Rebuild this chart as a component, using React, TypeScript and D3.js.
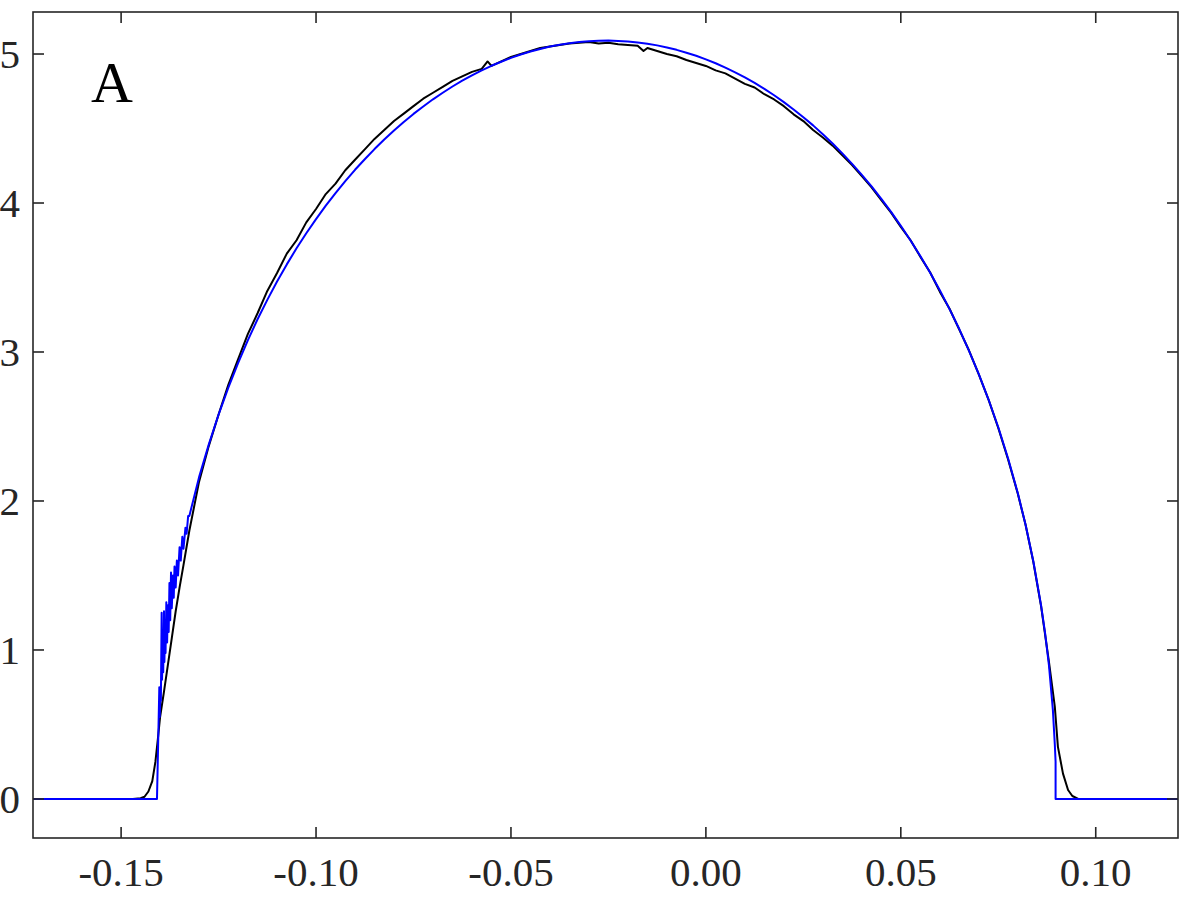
import React, { useEffect, useRef } from 'react';
import * as d3 from 'd3';

// axis ranges and ticks
const xDomain = [-0.1726, 0.1211];
const yDomain = [-0.262, 5.282];
const xTicks = [-0.15, -0.1, -0.05, 0.0, 0.05, 0.1];
const xTickLabels = ['-0.15', '-0.10', '-0.05', '0.00', '0.05', '0.10'];
const yTicks = [0, 1, 2, 3, 4, 5];
const yTickLabels = ['0', '1', '2', '3', '4', '5'];
const panelLabel = 'A';

// blue (theory) curve
const blueX = [
  -0.1726, -0.1408, -0.1405, -0.1402, -0.1401, -0.1399, -0.1398, -0.1396, -0.1395, -0.1393,
  -0.1392, -0.139, -0.1389, -0.1387, -0.1386, -0.1384, -0.1382, -0.138, -0.1378, -0.1376,
  -0.1374, -0.1372, -0.137, -0.1367, -0.1365, -0.1363, -0.136, -0.1357, -0.1354, -0.135,
  -0.1347, -0.1343, -0.134, -0.1335, -0.1332, -0.1328, -0.1325, -0.13, -0.1275, -0.125,
  -0.1225, -0.12, -0.1175, -0.115, -0.1125, -0.11, -0.1075, -0.105, -0.1025, -0.1,
  -0.0975, -0.095, -0.0925, -0.09, -0.0875, -0.085, -0.0825, -0.08, -0.0775, -0.075,
  -0.0725, -0.07, -0.0675, -0.065, -0.0625, -0.06, -0.0575, -0.055, -0.0525, -0.05,
  -0.0475, -0.045, -0.0425, -0.04, -0.0375, -0.035, -0.0325, -0.03, -0.0275, -0.025,
  -0.0225, -0.02, -0.0175, -0.015, -0.0125, -0.01, -0.0075, -0.005, -0.0025, 0.0,
  0.0025, 0.005, 0.0075, 0.01, 0.0125, 0.015, 0.0175, 0.02, 0.0225, 0.025,
  0.0275, 0.03, 0.0325, 0.035, 0.0375, 0.04, 0.0425, 0.045, 0.0475, 0.05,
  0.0525, 0.055, 0.0575, 0.06, 0.0625, 0.065, 0.0675, 0.07, 0.0725, 0.075,
  0.0775, 0.08, 0.082, 0.084, 0.086, 0.087, 0.088, 0.089, 0.0895, 0.0897,
  0.0897, 0.1211,
];
const blueY = [
  0, 0, 0.37, 0.75, 0.55, 0.7, 0.66, 1.25, 0.8, 1.1,
  0.85, 1.26, 0.92, 1.15, 0.98, 1.32, 1.05, 1.3, 1.12, 1.45,
  1.2, 1.52, 1.28, 1.5, 1.35, 1.56, 1.42, 1.6, 1.5, 1.69,
  1.6, 1.76, 1.68, 1.82, 1.78, 1.9, 1.9, 2.16, 2.38, 2.58,
  2.76, 2.925, 3.078, 3.22, 3.35, 3.473, 3.588, 3.696, 3.797, 3.892,
  3.982, 4.067, 4.147, 4.223, 4.294, 4.362, 4.426, 4.487, 4.544, 4.598,
  4.648, 4.696, 4.74, 4.782, 4.821, 4.857, 4.89, 4.921, 4.948, 4.974,
  4.997, 5.017, 5.034, 5.05, 5.062, 5.073, 5.08, 5.086, 5.089, 5.09,
  5.088, 5.084, 5.077, 5.069, 5.058, 5.044, 5.028, 5.009, 4.988, 4.964,
  4.938, 4.909, 4.877, 4.843, 4.806, 4.766, 4.723, 4.677, 4.628, 4.576,
  4.521, 4.462, 4.399, 4.333, 4.263, 4.189, 4.111, 4.028, 3.94, 3.847,
  3.748, 3.644, 3.533, 3.415, 3.288, 3.154, 3.008, 2.852, 2.681, 2.495,
  2.287, 2.054, 1.84, 1.594, 1.296, 1.115, 0.896, 0.6, 0.367, 0.25,
  0, 0,
];

// black (simulation) curve
const blackX = [
  -0.1726, -0.147, -0.145, -0.144, -0.143, -0.142, -0.1412, -0.1405, -0.14, -0.139,
  -0.138, -0.137, -0.136, -0.135, -0.134, -0.1325, -0.13, -0.1275, -0.125, -0.1225,
  -0.12, -0.1175, -0.115, -0.1125, -0.11, -0.1075, -0.105, -0.1025, -0.1, -0.0975,
  -0.095, -0.0925, -0.09, -0.0875, -0.085, -0.0825, -0.08, -0.0775, -0.075, -0.0725,
  -0.07, -0.0675, -0.065, -0.0625, -0.06, -0.0575, -0.056, -0.055, -0.0525, -0.05,
  -0.0475, -0.045, -0.0425, -0.04, -0.0375, -0.035, -0.0325, -0.03, -0.0275, -0.025,
  -0.0225, -0.02, -0.0175, -0.016, -0.015, -0.0125, -0.01, -0.0075, -0.005, -0.0025,
  0.0, 0.0025, 0.005, 0.0075, 0.01, 0.0125, 0.015, 0.0175, 0.02, 0.0225,
  0.025, 0.0275, 0.03, 0.0325, 0.035, 0.0375, 0.04, 0.0425, 0.045, 0.0475,
  0.05, 0.0525, 0.055, 0.0575, 0.06, 0.0625, 0.065, 0.0675, 0.07, 0.0725,
  0.075, 0.0775, 0.08, 0.082, 0.084, 0.086, 0.088, 0.0895, 0.0903, 0.0916,
  0.0929, 0.094, 0.0955, 0.1211,
];
const blackY = [
  0, 0, 0.005, 0.015, 0.05, 0.12, 0.25, 0.42, 0.55, 0.72,
  0.9, 1.08, 1.26, 1.42, 1.57, 1.8, 2.13, 2.37, 2.58, 2.78,
  2.95, 3.12, 3.26, 3.41, 3.53, 3.66, 3.75, 3.87, 3.96, 4.06,
  4.13, 4.22, 4.29, 4.36, 4.43, 4.49, 4.55, 4.6, 4.65, 4.7,
  4.74, 4.78, 4.82, 4.85, 4.88, 4.9, 4.95, 4.92, 4.95, 4.98,
  5.0, 5.02, 5.04, 5.05, 5.06, 5.07, 5.075, 5.08, 5.07, 5.075,
  5.065, 5.06, 5.055, 5.02, 5.04, 5.02, 5.0, 4.985, 4.96, 4.94,
  4.92, 4.89, 4.87, 4.835, 4.8, 4.775, 4.73, 4.695, 4.65, 4.595,
  4.55, 4.49, 4.44, 4.385, 4.32, 4.255, 4.18, 4.105, 4.02, 3.935,
  3.84, 3.75, 3.64, 3.535, 3.405, 3.29, 3.15, 3.01, 2.85, 2.68,
  2.49, 2.28, 2.05, 1.84, 1.59, 1.29, 0.92, 0.62, 0.35, 0.17,
  0.06, 0.02, 0, 0,
];

const W = 1200;
const H = 900;
const M = { left: 33, right: 22, top: 12, bottom: 62 };
const ink = '#262626';
const font = "'Liberation Serif', serif";

export default function App() {
  const ref = useRef<SVGSVGElement>(null);

  useEffect(() => {
    document.body.style.margin = '0';
    const svg = d3.select(ref.current);
    svg.selectAll('*').remove();

    const x = d3.scaleLinear().domain(xDomain).range([M.left, W - M.right]);
    const y = d3.scaleLinear().domain(yDomain).range([H - M.bottom, M.top]);
    const [x0, x1] = x.range();
    const [y0, y1] = y.range();

    svg.append('rect').attr('width', W).attr('height', H).attr('fill', '#fff');

    svg
      .append('clipPath')
      .attr('id', 'plotclip')
      .append('rect')
      .attr('x', x0)
      .attr('y', y1)
      .attr('width', x1 - x0)
      .attr('height', y0 - y1);

    const line = d3
      .line<[number, number]>()
      .x(d => x(d[0]))
      .y(d => y(d[1]));

    const black: [number, number][] = blackX.map((v, i) => [v, blackY[i]]);
    const blue: [number, number][] = blueX.map((v, i) => [v, blueY[i]]);

    const lines = svg.append('g').attr('clip-path', 'url(#plotclip)');
    lines
      .append('path')
      .attr('d', line(black))
      .attr('fill', 'none')
      .attr('stroke', '#000')
      .attr('stroke-width', 2)
      .attr('stroke-linejoin', 'round');
    lines
      .append('path')
      .attr('d', line(blue))
      .attr('fill', 'none')
      .attr('stroke', '#0000ff')
      .attr('stroke-width', 2)
      .attr('stroke-linejoin', 'round');

    /* ------- FRAME AND TICKS -------*/
    const tl = 11;
    const frame = svg.append('g').attr('stroke', ink).attr('stroke-width', 1.6);
    frame
      .append('rect')
      .attr('x', x0)
      .attr('y', y1)
      .attr('width', x1 - x0)
      .attr('height', y0 - y1)
      .attr('fill', 'none');

    xTicks.forEach(t => {
      frame.append('line').attr('x1', x(t)).attr('x2', x(t)).attr('y1', y0).attr('y2', y0 - tl);
      frame.append('line').attr('x1', x(t)).attr('x2', x(t)).attr('y1', y1).attr('y2', y1 + tl);
    });
    yTicks.forEach(t => {
      frame.append('line').attr('x1', x0).attr('x2', x0 + tl).attr('y1', y(t)).attr('y2', y(t));
      frame.append('line').attr('x1', x1).attr('x2', x1 - tl).attr('y1', y(t)).attr('y2', y(t));
    });

    /* ------- LABELS -------*/
    svg
      .append('g')
      .selectAll('text')
      .data(xTicks)
      .enter()
      .append('text')
      .attr('x', d => x(d))
      .attr('y', 886)
      .attr('text-anchor', 'middle')
      .style('font-family', font)
      .style('font-size', '41px')
      .attr('fill', ink)
      .text((d, i) => xTickLabels[i]);

    svg
      .append('g')
      .selectAll('text')
      .data(yTicks)
      .enter()
      .append('text')
      .attr('x', 20)
      .attr('y', d => y(d) + 14)
      .attr('text-anchor', 'end')
      .style('font-family', font)
      .style('font-size', '41px')
      .attr('fill', ink)
      .text((d, i) => yTickLabels[i]);

    svg
      .append('text')
      .attr('x', 91)
      .attr('y', 102)
      .style('font-family', font)
      .style('font-size', '58px')
      .attr('fill', '#000')
      .text(panelLabel);
  }, []);

  return <svg ref={ref} width={W} height={H} style={{ display: 'block' }} />;
}
